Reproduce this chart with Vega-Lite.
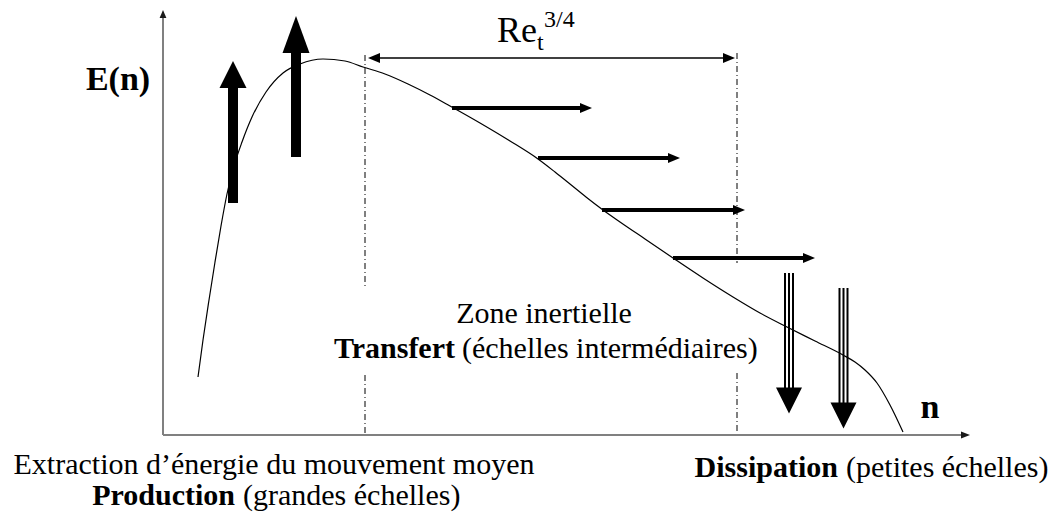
{
  "$schema": "https://vega.github.io/schema/vega-lite/v6.json",
  "width": 1056,
  "height": 515,
  "autosize": {"type": "fit", "contains": "padding"},
  "padding": 0,
  "background": "white",
  "config": {"view": {"stroke": null}},
  "datasets": {
    "curve": [
      {"x": 198, "y": 138}, {"x": 203, "y": 175}, {"x": 209, "y": 215}, {"x": 215, "y": 253},
      {"x": 221, "y": 289}, {"x": 227, "y": 321}, {"x": 234, "y": 349}, {"x": 242, "y": 373},
      {"x": 252, "y": 398}, {"x": 266, "y": 423}, {"x": 283, "y": 442}, {"x": 300, "y": 451},
      {"x": 323, "y": 456}, {"x": 345, "y": 454}, {"x": 363, "y": 448}, {"x": 385, "y": 441},
      {"x": 408, "y": 431}, {"x": 430, "y": 420}, {"x": 450, "y": 409}, {"x": 480, "y": 392},
      {"x": 510, "y": 374}, {"x": 538, "y": 356}, {"x": 555, "y": 343}, {"x": 570, "y": 331},
      {"x": 586, "y": 318}, {"x": 603, "y": 305}, {"x": 620, "y": 293}, {"x": 645, "y": 276},
      {"x": 673, "y": 257}, {"x": 703, "y": 237}, {"x": 733, "y": 218}, {"x": 760, "y": 202},
      {"x": 787, "y": 188}, {"x": 815, "y": 174}, {"x": 843, "y": 160}, {"x": 855, "y": 153},
      {"x": 865, "y": 145}, {"x": 877, "y": 132}, {"x": 890, "y": 110}, {"x": 903, "y": 83}
    ],
    "segments": [
      {"part": "axis", "x": 163, "y": 80, "x2": 163, "y2": 497},
      {"part": "axis", "x": 163, "y": 80, "x2": 962, "y2": 80},
      {"part": "guide", "x": 365, "y": 460, "x2": 365, "y2": 227},
      {"part": "guide", "x": 365, "y": 140, "x2": 365, "y2": 80},
      {"part": "guide", "x": 737, "y": 462, "x2": 737, "y2": 252},
      {"part": "guide", "x": 737, "y": 142, "x2": 737, "y2": 80},
      {"part": "span", "x": 372, "y": 457, "x2": 731, "y2": 457},
      {"part": "flux", "x": 452, "y": 407, "x2": 582, "y2": 407},
      {"part": "flux", "x": 538, "y": 357, "x2": 670, "y2": 357},
      {"part": "flux", "x": 602, "y": 305, "x2": 735, "y2": 305},
      {"part": "flux", "x": 673, "y": 257, "x2": 805, "y2": 257},
      {"part": "prod", "x": 233, "y": 312, "x2": 233, "y2": 429},
      {"part": "prod", "x": 296, "y": 358, "x2": 296, "y2": 464},
      {"part": "diss", "x": 785, "y": 242, "x2": 785, "y2": 125},
      {"part": "diss", "x": 789, "y": 242, "x2": 789, "y2": 125},
      {"part": "diss", "x": 793, "y": 242, "x2": 793, "y2": 125},
      {"part": "diss", "x": 839.5, "y": 227, "x2": 839.5, "y2": 110},
      {"part": "diss", "x": 843.5, "y": 227, "x2": 843.5, "y2": 110},
      {"part": "diss", "x": 847.5, "y": 227, "x2": 847.5, "y2": 110}
    ],
    "heads": [
      {"part": "axisUp", "x": 163, "y": 501},
      {"part": "axisRight", "x": 965.5, "y": 80},
      {"part": "prodA", "x": 233, "y": 440.5},
      {"part": "prodB", "x": 296, "y": 480.5},
      {"part": "left", "x": 374, "y": 457},
      {"part": "right", "x": 729, "y": 457},
      {"part": "right", "x": 586, "y": 407},
      {"part": "right", "x": 674, "y": 357},
      {"part": "right", "x": 739, "y": 305},
      {"part": "right", "x": 809, "y": 257},
      {"part": "down", "x": 789, "y": 114.5},
      {"part": "down", "x": 843.5, "y": 99.5}
    ],
    "labels": [
      {"role": "title", "text": "E(n)", "x": 118, "y": 425},
      {"role": "title", "text": "n", "x": 930, "y": 97},
      {"role": "re", "text": "Re", "x": 497, "y": 473},
      {"role": "sub", "text": "t", "x": 537, "y": 465},
      {"role": "sup", "text": "3/4", "x": 544, "y": 488},
      {"role": "center", "text": "Zone inertielle", "x": 544, "y": 192},
      {"role": "center", "text": "Extraction d’énergie du mouvement moyen", "x": 274, "y": 41},
      {"role": "lead", "text": "Transfert", "x": 455, "y": 157},
      {"role": "rest", "text": "(échelles intermédiaires)", "x": 462, "y": 157},
      {"role": "lead", "text": "Production", "x": 235, "y": 10},
      {"role": "rest", "text": "(grandes échelles)", "x": 243, "y": 10},
      {"role": "lead", "text": "Dissipation", "x": 838, "y": 38},
      {"role": "rest", "text": "(petites échelles)", "x": 846, "y": 38}
    ]
  },
  "encoding": {
    "x": {"field": "x", "type": "quantitative", "scale": {"domain": [0, 1056], "nice": false, "zero": false}, "axis": null},
    "y": {"field": "y", "type": "quantitative", "scale": {"domain": [0, 515], "nice": false, "zero": false}, "axis": null}
  },
  "layer": [
    {
      "data": {"name": "segments"},
      "transform": [{"filter": "datum.part === 'guide'"}],
      "mark": {"type": "rule", "color": "#000000", "strokeWidth": 1, "strokeDash": [6, 3, 1, 3]},
      "encoding": {"x2": {"field": "x2"}, "y2": {"field": "y2"}}
    },
    {
      "data": {"name": "segments"},
      "transform": [{"filter": "datum.part === 'axis'"}],
      "mark": {"type": "rule", "color": "#808080", "strokeWidth": 2},
      "encoding": {"x2": {"field": "x2"}, "y2": {"field": "y2"}}
    },
    {
      "data": {"name": "curve"},
      "mark": {"type": "line", "color": "#000000", "strokeWidth": 1.2, "interpolate": "monotone"},
      "encoding": {}
    },
    {
      "data": {"name": "segments"},
      "transform": [{"filter": "datum.part === 'span'"}],
      "mark": {"type": "rule", "color": "#000000", "strokeWidth": 1.5},
      "encoding": {"x2": {"field": "x2"}, "y2": {"field": "y2"}}
    },
    {
      "data": {"name": "segments"},
      "transform": [{"filter": "datum.part === 'flux'"}],
      "mark": {"type": "rule", "color": "#000000", "strokeWidth": 4},
      "encoding": {"x2": {"field": "x2"}, "y2": {"field": "y2"}}
    },
    {
      "data": {"name": "segments"},
      "transform": [{"filter": "datum.part === 'prod'"}],
      "mark": {"type": "rule", "color": "#000000", "strokeWidth": 10},
      "encoding": {"x2": {"field": "x2"}, "y2": {"field": "y2"}}
    },
    {
      "data": {"name": "segments"},
      "transform": [{"filter": "datum.part === 'diss'"}],
      "mark": {"type": "rule", "color": "#000000", "strokeWidth": 2},
      "encoding": {"x2": {"field": "x2"}, "y2": {"field": "y2"}}
    },
    {
      "data": {"name": "heads"},
      "transform": [{"filter": "datum.part === 'axisUp'"}],
      "mark": {"type": "point", "shape": "M0,-1L0.85,1L-0.85,1Z", "size": 64, "filled": true, "color": "#1a1a1a", "opacity": 1, "strokeWidth": 0}
    },
    {
      "data": {"name": "heads"},
      "transform": [{"filter": "datum.part === 'axisRight'"}],
      "mark": {"type": "point", "shape": "M1,0L-1,-0.8L-1,0.8Z", "size": 81, "filled": true, "color": "#1a1a1a", "opacity": 1, "strokeWidth": 0}
    },
    {
      "data": {"name": "heads"},
      "transform": [{"filter": "datum.part === 'prodA'"}],
      "mark": {"type": "point", "shape": "M0,-1L1,1L-1,1Z", "size": 729, "filled": true, "color": "#000000", "opacity": 1, "strokeWidth": 0}
    },
    {
      "data": {"name": "heads"},
      "transform": [{"filter": "datum.part === 'prodB'"}],
      "mark": {"type": "point", "shape": "M0,-1.37L1,1.37L-1,1.37Z", "size": 729, "filled": true, "color": "#000000", "opacity": 1, "strokeWidth": 0}
    },
    {
      "data": {"name": "heads"},
      "transform": [{"filter": "datum.part === 'left'"}],
      "mark": {"type": "point", "shape": "M-1,0L1,-0.85L1,0.85Z", "size": 144, "filled": true, "color": "#000000", "opacity": 1, "strokeWidth": 0}
    },
    {
      "data": {"name": "heads"},
      "transform": [{"filter": "datum.part === 'right'"}],
      "mark": {"type": "point", "shape": "M1,0L-1,-0.85L-1,0.85Z", "size": 144, "filled": true, "color": "#000000", "opacity": 1, "strokeWidth": 0}
    },
    {
      "data": {"name": "heads"},
      "transform": [{"filter": "datum.part === 'down'"}],
      "mark": {"type": "point", "shape": "M0,1L1,-1L-1,-1Z", "size": 676, "filled": true, "color": "#000000", "opacity": 1, "strokeWidth": 0}
    },
    {
      "data": {"name": "labels"},
      "transform": [{"filter": "datum.role === 'title'"}],
      "mark": {"type": "text", "font": "Liberation Serif", "fontWeight": "bold", "fontSize": 34, "align": "center", "baseline": "alphabetic", "color": "#000000"},
      "encoding": {"text": {"field": "text"}}
    },
    {
      "data": {"name": "labels"},
      "transform": [{"filter": "datum.role === 're'"}],
      "mark": {"type": "text", "font": "Liberation Serif", "fontSize": 36, "align": "left", "baseline": "alphabetic", "color": "#000000"},
      "encoding": {"text": {"field": "text"}}
    },
    {
      "data": {"name": "labels"},
      "transform": [{"filter": "datum.role === 'sub' || datum.role === 'sup'"}],
      "mark": {"type": "text", "font": "Liberation Serif", "fontSize": 24, "align": "left", "baseline": "alphabetic", "color": "#000000"},
      "encoding": {"text": {"field": "text"}}
    },
    {
      "data": {"name": "labels"},
      "transform": [{"filter": "datum.role === 'center'"}],
      "mark": {"type": "text", "font": "Liberation Serif", "fontSize": 30, "align": "center", "baseline": "alphabetic", "color": "#000000"},
      "encoding": {"text": {"field": "text"}}
    },
    {
      "data": {"name": "labels"},
      "transform": [{"filter": "datum.role === 'lead'"}],
      "mark": {"type": "text", "font": "Liberation Serif", "fontWeight": "bold", "fontSize": 30, "align": "right", "baseline": "alphabetic", "color": "#000000"},
      "encoding": {"text": {"field": "text"}}
    },
    {
      "data": {"name": "labels"},
      "transform": [{"filter": "datum.role === 'rest'"}],
      "mark": {"type": "text", "font": "Liberation Serif", "fontSize": 30, "align": "left", "baseline": "alphabetic", "color": "#000000"},
      "encoding": {"text": {"field": "text"}}
    }
  ]
}
